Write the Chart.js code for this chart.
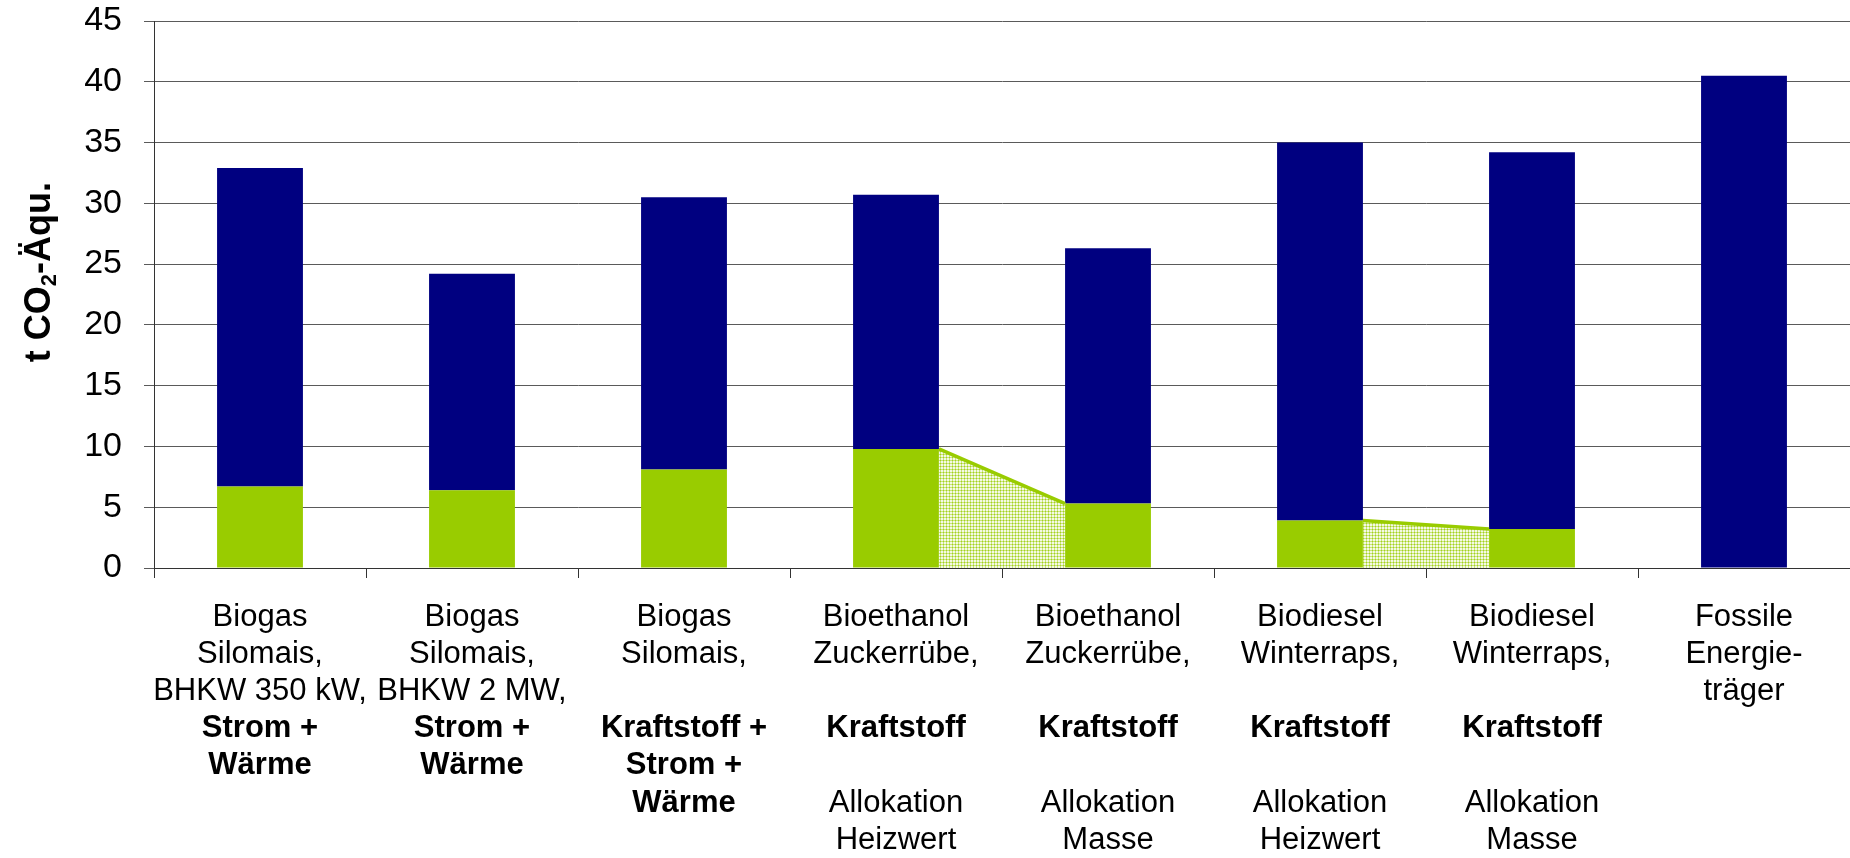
<!DOCTYPE html>
<html>
<head>
<meta charset="utf-8">
<script src="https://cdn.jsdelivr.net/npm/chart.js@4.4.1/dist/chart.umd.min.js"></script>
<style>
  html, body { margin: 0; padding: 0; background: #fff; }
  #wrap { width: 1850px; height: 858px; position: relative; }
</style>
</head>
<body>
<div id="wrap"><canvas id="co2Chart"></canvas></div>
<script>
// category labels, one entry per line ('' = empty line)
const categories = [
  ['Biogas', 'Silomais,', 'BHKW 350 kW,', 'Strom +', 'Wärme'],
  ['Biogas', 'Silomais,', 'BHKW 2 MW,', 'Strom +', 'Wärme'],
  ['Biogas', 'Silomais,', '', 'Kraftstoff +', 'Strom +', 'Wärme'],
  ['Bioethanol', 'Zuckerrübe,', '', 'Kraftstoff', '', 'Allokation', 'Heizwert'],
  ['Bioethanol', 'Zuckerrübe,', '', 'Kraftstoff', '', 'Allokation', 'Masse'],
  ['Biodiesel', 'Winterraps,', '', 'Kraftstoff', '', 'Allokation', 'Heizwert'],
  ['Biodiesel', 'Winterraps,', '', 'Kraftstoff', '', 'Allokation', 'Masse'],
  ['Fossile', 'Energie-', 'träger']
];
const boldLines = ['Strom +', 'Wärme', 'Kraftstoff +', 'Kraftstoff'];

// t CO2-Äqu. per category
const greenValues = [6.7, 6.4, 8.1, 9.8, 5.3, 3.9, 3.2, 0];
const blueValues = [26.2, 17.8, 22.4, 20.9, 21.0, 31.1, 31.0, 40.5];

const yTickValues = [0, 5, 10, 15, 20, 25, 30, 35, 40, 45];

// Heizwert -> Masse allocation, drawn as a dotted wedge between the two bars
const allocationPairs = [[3, 4], [5, 6]];

const FONT = '"Liberation Sans", Arial, sans-serif';
const GREEN = '#99cc00';
const NAVY = '#000080';

function dotPattern(ctx) {
  const c = document.createElement('canvas');
  c.width = 3;
  c.height = 3;
  const g = c.getContext('2d');
  g.fillStyle = '#f4f9e4';
  g.fillRect(0, 0, 3, 3);
  g.fillStyle = '#c9e47a';
  g.fillRect(0, 1, 3, 1);
  g.fillRect(1, 0, 1, 3);
  g.fillStyle = '#a3d21c';
  g.fillRect(1, 1, 1, 1);
  return ctx.createPattern(c, 'repeat');
}

const allocationBridge = {
  id: 'allocationBridge',
  afterDatasetsDraw(chart) {
    const ctx = chart.ctx;
    const y = chart.scales.y;
    const bars = chart.getDatasetMeta(0).data;
    const base = y.getPixelForValue(0);
    const pattern = dotPattern(ctx);
    ctx.save();
    allocationPairs.forEach(([a, b]) => {
      const x0 = bars[a].x + bars[a].width / 2;
      const x1 = bars[b].x - bars[b].width / 2;
      const y0 = y.getPixelForValue(greenValues[a]);
      const y1 = y.getPixelForValue(greenValues[b]);
      ctx.beginPath();
      ctx.moveTo(x0, base);
      ctx.lineTo(x0, y0);
      ctx.lineTo(x1, y1);
      ctx.lineTo(x1, base);
      ctx.closePath();
      ctx.fillStyle = pattern;
      ctx.fill();
      ctx.beginPath();
      ctx.moveTo(x0, y0);
      ctx.lineTo(x1, y1);
      ctx.strokeStyle = GREEN;
      ctx.lineWidth = 3.5;
      ctx.stroke();
    });
    ctx.restore();
  }
};

const categoryLabels = {
  id: 'categoryLabels',
  afterDraw(chart) {
    const ctx = chart.ctx;
    const x = chart.scales.x;
    const top = chart.chartArea.bottom + 49;
    ctx.save();
    ctx.fillStyle = '#000';
    ctx.textAlign = 'center';
    ctx.textBaseline = 'middle';
    categories.forEach((lines, i) => {
      const cx = x.getPixelForValue(i);
      lines.forEach((line, k) => {
        if (!line) return;
        ctx.font = (boldLines.includes(line) ? 'bold ' : '') + '31px ' + FONT;
        ctx.fillText(line, cx, top + k * 37.2);
      });
    });
    ctx.restore();
  }
};

// rotated axis title with a real subscript 2, its end sits just below the 35 line
const yTitle = {
  id: 'yTitle',
  afterDraw(chart) {
    const ctx = chart.ctx;
    const parts = [
      { text: 't CO', size: 36, dy: 0 },
      { text: '2', size: 22, dy: 6 },
      { text: '-Äqu.', size: 36, dy: 0 }
    ];
    ctx.save();
    ctx.translate(50, chart.chartArea.top + 161);
    ctx.rotate(-Math.PI / 2);
    ctx.fillStyle = '#000';
    ctx.textBaseline = 'alphabetic';
    ctx.textAlign = 'left';
    let total = 0;
    parts.forEach(p => {
      ctx.font = 'bold ' + p.size + 'px ' + FONT;
      p.w = ctx.measureText(p.text).width;
      total += p.w;
    });
    let cx = -total;
    parts.forEach(p => {
      ctx.font = 'bold ' + p.size + 'px ' + FONT;
      ctx.fillText(p.text, cx, p.dy);
      cx += p.w;
    });
    ctx.restore();
  }
};

new Chart(document.getElementById('co2Chart').getContext('2d'), {
  type: 'bar',
  data: {
    labels: categories,
    datasets: [
      {
        data: greenValues,
        backgroundColor: GREEN,
        borderWidth: 0,
        barPercentage: 0.405,
        categoryPercentage: 1
      },
      {
        data: blueValues,
        backgroundColor: NAVY,
        borderWidth: 0,
        barPercentage: 0.405,
        categoryPercentage: 1
      }
    ]
  },
  options: {
    responsive: true,
    maintainAspectRatio: false,
    animation: false,
    layout: { padding: { left: 0, right: 0, top: 21, bottom: 280 } },
    plugins: {
      legend: { display: false },
      tooltip: { enabled: false }
    },
    scales: {
      x: {
        stacked: true,
        ticks: { display: false },
        grid: { offset: true, drawOnChartArea: false, drawTicks: true, tickLength: 10, color: '#333' },
        border: { color: '#333', width: 1 }
      },
      y: {
        stacked: true,
        min: 0,
        max: 45,
        afterBuildTicks: s => { s.ticks = yTickValues.map(v => ({ value: v })); },
        afterFit: s => {
          s.width = 154;
          s.paddingTop = 0;
          s.paddingBottom = 0;
        },
        ticks: { padding: 22, color: '#000', font: { size: 34, family: FONT } },
        grid: { color: '#5a5a5a', lineWidth: 1, tickLength: 10 },
        border: { color: '#333', width: 1 }
      }
    }
  },
  plugins: [allocationBridge, categoryLabels, yTitle]
});
</script>
</body>
</html>
